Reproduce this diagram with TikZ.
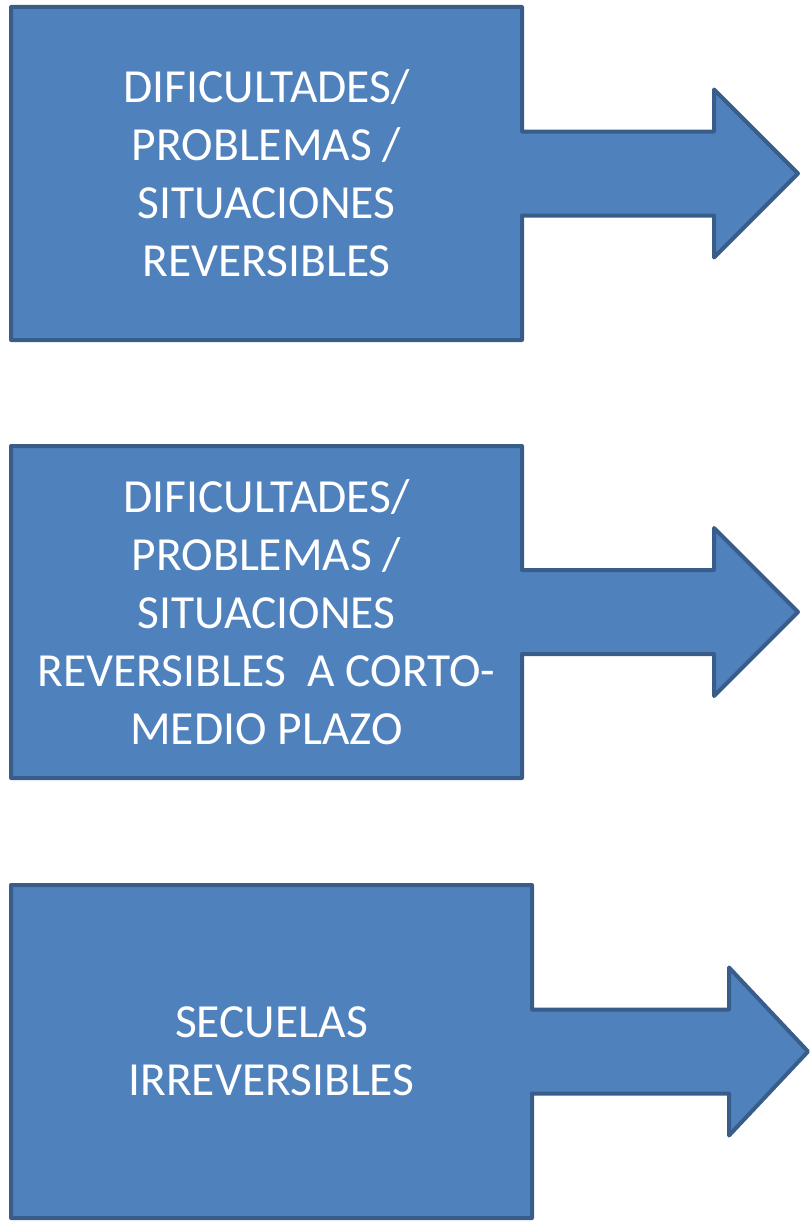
\documentclass[tikz,border=0pt]{standalone}
\usepackage{fontspec}
\setmainfont{Carlito}
\usepackage{tikz}

\definecolor{boxfill}{HTML}{4F81BD}
\definecolor{boxline}{HTML}{385D8A}

% box with a block arrow on its right: name, top, bottom, box right, head base, tip, text
\newcommand{\calloutarrow}[7]{%
  \pgfmathsetmacro{\midy}{(#2+#3)/2}
  \path[callout] (11,#2) -- (#4,#2) -- (#4,\midy-42) -- (#5,\midy-42)
    -- (#5,\midy-84) -- (#6,\midy) -- (#5,\midy+84) -- (#5,\midy+42)
    -- (#4,\midy+42) -- (#4,#3) -- (11,#3) -- cycle;
  \node[calloutlabel] (#1) at ({(11+#4)/2},\midy) {#7};
}

\begin{document}
\begin{tikzpicture}[x=1pt, y=-1pt,
  callout/.style = {fill=boxfill, draw=boxline, line width=4pt, line join=round},
  calloutlabel/.style = {text=white, align=center, inner sep=0pt,
    font=\fontsize{47.5}{58}\selectfont}]
  \useasboundingbox (0,0) rectangle (811,1223);

  \calloutarrow{rev}{7}{340}{522}{714}{798}
    {DIFICULTADES/\\PROBLEMAS /\\SITUACIONES\\REVERSIBLES}
  \calloutarrow{revplazo}{446}{778}{522}{714}{798}
    {DIFICULTADES/\\PROBLEMAS /\\SITUACIONES\\REVERSIBLES\ \ A CORTO-\\MEDIO PLAZO}
  \calloutarrow{secuelas}{885}{1218}{532}{729}{808}
    {SECUELAS\\IRREVERSIBLES}
\end{tikzpicture}
\end{document}
